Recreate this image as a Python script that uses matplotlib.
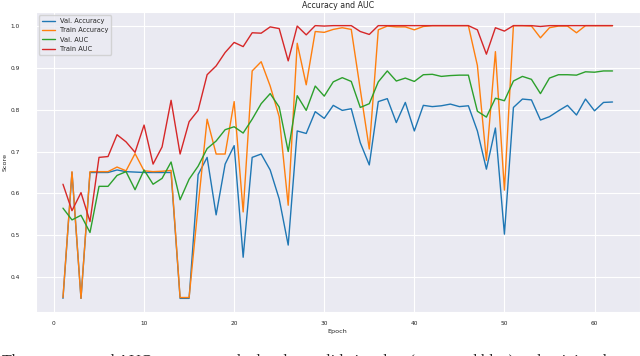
import matplotlib
matplotlib.use("Agg")
import matplotlib.pyplot as plt
import seaborn as sns

sns.set_style("darkgrid")

# scores per epoch
epochs = list(range(1, 63))

val_acc = [0.35, 0.65, 0.35, 0.65, 0.650, 0.650, 0.656, 0.652, 0.651, 0.650,
           0.650, 0.650, 0.650, 0.35, 0.35, 0.645, 0.686, 0.549, 0.670, 0.714,
           0.448, 0.686, 0.694, 0.656, 0.587, 0.477, 0.749, 0.743, 0.795, 0.779,
           0.810, 0.798, 0.802, 0.721, 0.668, 0.819, 0.826, 0.769, 0.817, 0.749,
           0.810, 0.807, 0.809, 0.813, 0.807, 0.809, 0.749, 0.658, 0.756, 0.503,
           0.805, 0.825, 0.823, 0.775, 0.783, 0.797, 0.810, 0.787, 0.825, 0.797,
           0.817, 0.818]

train_acc = [0.352, 0.652, 0.35, 0.652, 0.652, 0.652, 0.663, 0.654, 0.695, 0.654,
             0.652, 0.653, 0.655, 0.352, 0.352, 0.57, 0.777, 0.694, 0.694, 0.819,
             0.556, 0.892, 0.914, 0.856, 0.783, 0.572, 0.958, 0.859, 0.986, 0.984,
             0.991, 0.995, 0.991, 0.848, 0.706, 0.990, 0.999, 0.997, 0.997, 0.990,
             0.998, 1.0, 1.0, 1.0, 1.0, 1.0, 0.905, 0.679, 0.938, 0.608,
             1.0, 1.0, 0.999, 0.971, 0.995, 0.999, 0.999, 0.983, 1.0, 1.0,
             1.0, 1.0]

val_auc = [0.565, 0.537, 0.548, 0.507, 0.617, 0.617, 0.643, 0.652, 0.609, 0.656,
           0.622, 0.636, 0.675, 0.585, 0.634, 0.665, 0.707, 0.725, 0.752, 0.759,
           0.744, 0.777, 0.814, 0.838, 0.806, 0.700, 0.833, 0.798, 0.856, 0.832,
           0.866, 0.876, 0.867, 0.805, 0.814, 0.866, 0.892, 0.868, 0.875, 0.867,
           0.883, 0.884, 0.879, 0.881, 0.882, 0.882, 0.796, 0.782, 0.827, 0.821,
           0.868, 0.879, 0.872, 0.838, 0.875, 0.883, 0.883, 0.882, 0.890, 0.889,
           0.892, 0.892]

train_auc = [0.622, 0.559, 0.602, 0.533, 0.686, 0.688, 0.740, 0.723, 0.698, 0.763,
             0.670, 0.711, 0.822, 0.694, 0.771, 0.798, 0.883, 0.904, 0.936, 0.960,
             0.950, 0.983, 0.982, 0.997, 0.993, 0.916, 0.999, 0.978, 1.0, 0.999,
             1.0, 1.0, 1.0, 0.986, 0.979, 1.0, 1.0, 1.0, 1.0, 1.0,
             1.0, 1.0, 1.0, 1.0, 1.0, 1.0, 0.990, 0.932, 0.995, 0.987,
             1.0, 1.0, 1.0, 0.998, 1.0, 1.0, 1.0, 1.0, 1.0, 1.0,
             1.0, 1.0]

# caption of the source figure, only the top of it shows in the crop
caption = "The accuracy and AUC scores are calculated on validation data (green and blue) and training data"

fig = plt.figure(figsize=(6.4, 3.56), dpi=100)
ax = fig.add_axes([35.5 / 640, 44 / 356, 1 - 35.5 / 640, 300 / 356])

lw = 1.0
ax.plot(epochs, val_acc, label="Val. Accuracy", color="C0", lw=lw)
ax.plot(epochs, train_acc, label="Train Accuracy", color="C1", lw=lw)
ax.plot(epochs, val_auc, label="Val. AUC", color="C2", lw=lw)
ax.plot(epochs, train_auc, label="Train AUC", color="C3", lw=lw)

ax.set_xticks([0, 10, 20, 30, 40, 50, 60])
ax.set_yticks([0.4, 0.5, 0.6, 0.7, 0.8, 0.9, 1.0])
ax.tick_params(axis="x", labelsize=4.2, pad=3)
ax.tick_params(axis="y", labelsize=4.2, pad=8)
ax.set_xlabel("Epoch", fontsize=4.6, labelpad=2)
ax.set_ylabel("Score", fontsize=4.6, labelpad=2)
ax.set_title("Accuracy and AUC", fontsize=5.7, pad=3)
ax.legend(loc="upper left", fontsize=4.8)

fig.text(0.003, -0.029, caption, family="Liberation Serif", fontsize=11.5,
         va="baseline", ha="left")

fig.savefig("out.png", dpi=100)
